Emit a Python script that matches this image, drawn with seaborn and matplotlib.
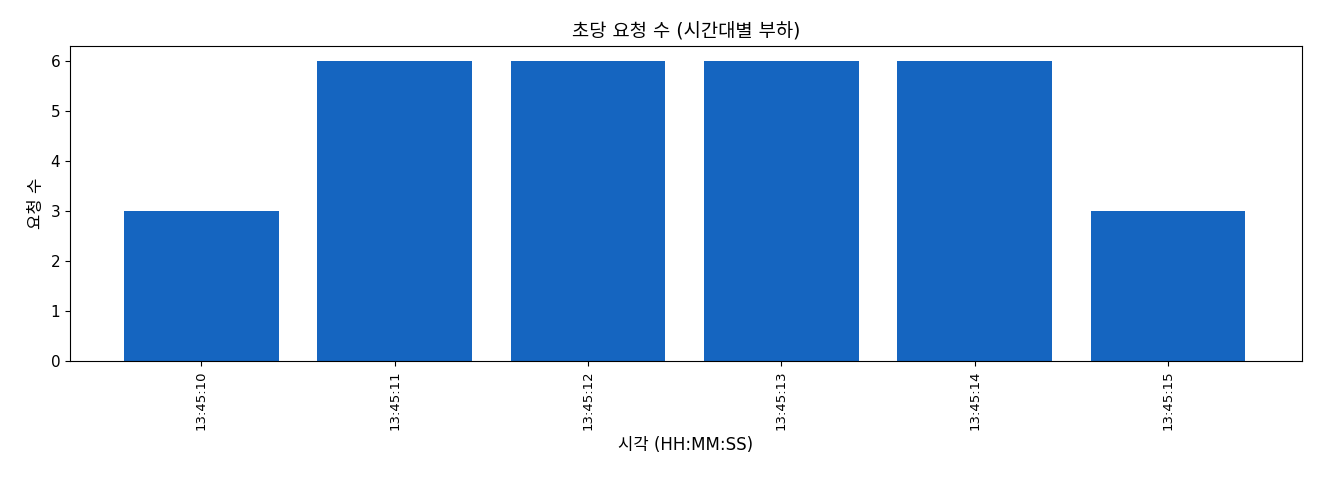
import matplotlib
matplotlib.use("Agg")
import matplotlib.pyplot as plt
import seaborn as sns
import pandas as pd

times = ["13:45:10", "13:45:11", "13:45:12", "13:45:13", "13:45:14", "13:45:15"]
counts = [3, 6, 6, 6, 6, 3]

plt.rcParams['font.family'] = ['DejaVu Sans', 'Noto Sans CJK KR']

df = pd.DataFrame({"time": times, "count": counts})

fig, ax = plt.subplots(figsize=(13.2, 4.8), dpi=100)
sns.barplot(data=df, x="time", y="count", color="#1565C0", saturation=1, width=0.8, ax=ax)
ax.set_title("초당 요청 수 (시간대별 부하)", fontsize=13.5, pad=6)
ax.set_xlabel("시각 (HH:MM:SS)", fontsize=12, labelpad=4)
ax.set_ylabel("요청 수", fontsize=12)
ax.tick_params(axis="x", labelrotation=90, labelsize=9.5)
ax.tick_params(axis="y", labelsize=11)
ax.set_xlim(-0.68, 5.69)
fig.subplots_adjust(left=0.053, right=0.986, top=0.904, bottom=0.248)
fig.savefig("out.png", dpi=100)
